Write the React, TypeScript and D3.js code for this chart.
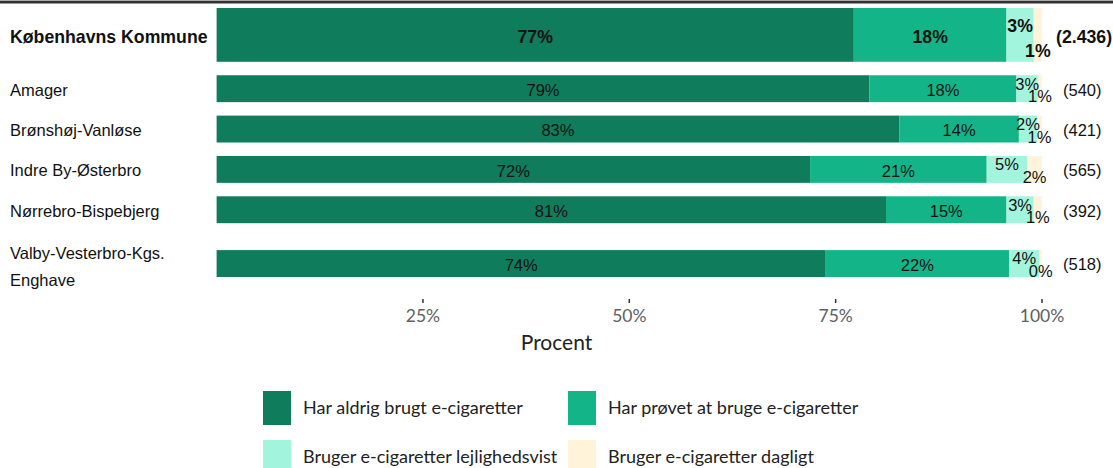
import React from "react";
import * as d3 from "d3";

const categories = [
  "Københavns Kommune",
  "Amager",
  "Brønshøj-Vanløse",
  "Indre By-Østerbro",
  "Nørrebro-Bispebjerg",
  "Valby-Vesterbro-Kgs. Enghave",
];
const categoryLines = [
  ["Københavns Kommune"],
  ["Amager"],
  ["Brønshøj-Vanløse"],
  ["Indre By-Østerbro"],
  ["Nørrebro-Bispebjerg"],
  ["Valby-Vesterbro-Kgs.", "Enghave"],
];
const counts = ["(2.436)", "(540)", "(421)", "(565)", "(392)", "(518)"];
const seriesNames = [
  "Har aldrig brugt e-cigaretter",
  "Har prøvet at bruge e-cigaretter",
  "Bruger e-cigaretter lejlighedsvist",
  "Bruger e-cigaretter dagligt",
];
const neverUsed = [77.2, 79.1, 82.7, 71.9, 81.1, 73.8];
const tried = [18.5, 17.8, 14.5, 21.4, 14.6, 22.2];
const occasional = [3.3, 2.6, 2.2, 4.9, 3.3, 3.7];
const daily = [1.0, 0.5, 0.6, 1.8, 1.0, 0.3];
const labelNever = ["77%", "79%", "83%", "72%", "81%", "74%"];
const labelTried = ["18%", "18%", "14%", "21%", "15%", "22%"];
const labelOcc = ["3%", "3%", "2%", "5%", "3%", "4%"];
const labelDaily = ["1%", "1%", "1%", "2%", "1%", "0%"];
const xTicks = [25, 50, 75, 100];
const xTickLabels = ["25%", "50%", "75%", "100%"];

const colors = ["#0f7c5c", "#13b588", "#a3f4dd", "#fff4da"];

const W = 1113;
const H = 468;
const sansA = "'Liberation Sans', Arial, sans-serif";
const sansB = "Lato, 'Noto Sans', sans-serif";

export default function App() {
  const x = d3.scaleLinear().domain([0, 100]).range([216.6, 1042]);
  // row layout in units: bar sizes and gaps before each row
  const barUnits = [2, 1, 1, 1, 1, 1];
  const gapUnits = [0, 0.5, 0.5, 0.5, 0.5, 1];
  const starts: number[] = [];
  let acc = 0;
  barUnits.forEach((b, i) => {
    acc += gapUnits[i];
    starts.push(acc);
    acc += b;
  });
  const y = d3.scaleLinear().domain([0, acc]).range([8, 277]);

  const stackData = categories.map((c, i) => ({
    key: c,
    a: neverUsed[i],
    b: tried[i],
    c: occasional[i],
    d: daily[i],
  }));
  const stack = d3.stack<any>().keys(["a", "b", "c", "d"])(stackData);

  const legendX = [263, 568];
  const legendY = [391, 440];
  const legFs = 18;

  return (
    <svg
      width={W}
      height={H}
      style={{ position: "absolute", left: 0, top: 0, background: "#fff" }}
    >
      <rect x={0} y={0} width={W} height={1} fill="#aaa" />
      <rect x={0} y={1} width={W} height={2} fill="#333" />
      <rect x={0} y={3} width={W} height={1} fill="#999" />

      {categories.map((c, i) => {
        const y0 = y(starts[i]);
        const y1 = y(starts[i] + barUnits[i]);
        const h = y1 - y0;
        const cy = (y0 + y1) / 2;
        const bold = i === 0;
        const fs = bold ? 17.7 : 16.5;
        const capFs = bold ? 19 : 16.5;
        const fw = bold ? 700 : 400;
        const lines = categoryLines[i];
        const lineH = 26.5;
        const baseY =
          cy + 1 + 0.358 * capFs - ((lines.length - 1) * lineH) / 2 + (lines.length > 1 ? 2 : 0);
        const segs = stack.map((s) => s[i]);
        const segLabels = [labelNever[i], labelTried[i]];
        return (
          <g key={c}>
            {lines.map((ln, k) => (
              <text
                key={k}
                x={10}
                y={baseY + k * lineH}
                fontFamily={sansA}
                fontSize={fs}
                fontWeight={fw}
                fill="#111"
              >
                {ln}
              </text>
            ))}
            {segs.map((s, k) => (
              <rect
                key={k}
                x={x(s[0])}
                y={y0}
                width={x(s[1]) - x(s[0])}
                height={h}
                fill={colors[k]}
              />
            ))}
            {segLabels.map((lab, k) => (
              <text
                key={"l" + k}
                x={(x(segs[k][0]) + x(segs[k][1])) / 2}
                y={cy + 1.5 + 0.358 * capFs}
                textAnchor="middle"
                fontFamily={sansA}
                fontSize={fs}
                fontWeight={fw}
                fill="#111"
              >
                {lab}
              </text>
            ))}
            <text
              x={(x(segs[2][0]) + x(segs[2][1])) / 2}
              y={cy - 0.185 * h + 0.358 * capFs}
              textAnchor="middle"
              fontFamily={sansA}
              fontSize={fs}
              fontWeight={fw}
              fill="#111"
            >
              {labelOcc[i]}
            </text>
            <text
              x={(x(segs[3][0]) + x(segs[3][1])) / 2}
              y={cy + 0.29 * h + 0.358 * capFs}
              textAnchor="middle"
              fontFamily={sansA}
              fontSize={fs}
              fontWeight={fw}
              fill="#111"
            >
              {labelDaily[i]}
            </text>
            <text
              x={x(100) + (bold ? 14 : 21)}
              y={cy + 1 + 0.358 * capFs}
              fontFamily={sansA}
              fontSize={fs}
              fontWeight={fw}
              fill="#111"
            >
              {counts[i]}
            </text>
          </g>
        );
      })}

      {xTicks.map((t, i) => (
        <g key={t}>
          <line x1={x(t)} x2={x(t)} y1={299} y2={303} stroke="#333" strokeWidth={1.5} />
          <text
            x={x(t)}
            y={322}
            textAnchor="middle"
            fontFamily={sansB}
            fontSize={17.5}
            fill="#606060"
          >
            {xTickLabels[i]}
          </text>
        </g>
      ))}
      <text
        x={W / 2}
        y={350}
        textAnchor="middle"
        fontFamily={sansB}
        fontSize={21}
        fill="#222"
      >
        Procent
      </text>

      {seriesNames.map((n, i) => {
        const col = i % 2;
        const row = Math.floor(i / 2);
        const lx = legendX[col];
        const ly = legendY[row];
        return (
          <g key={n}>
            <rect x={lx} y={ly} width={28} height={34} fill={colors[i]} />
            <text
              x={lx + 40}
              y={ly + 17 + 0.36 * legFs}
              fontFamily={sansB}
              fontSize={legFs}
              fill="#222"
            >
              {n}
            </text>
          </g>
        );
      })}
    </svg>
  );
}
